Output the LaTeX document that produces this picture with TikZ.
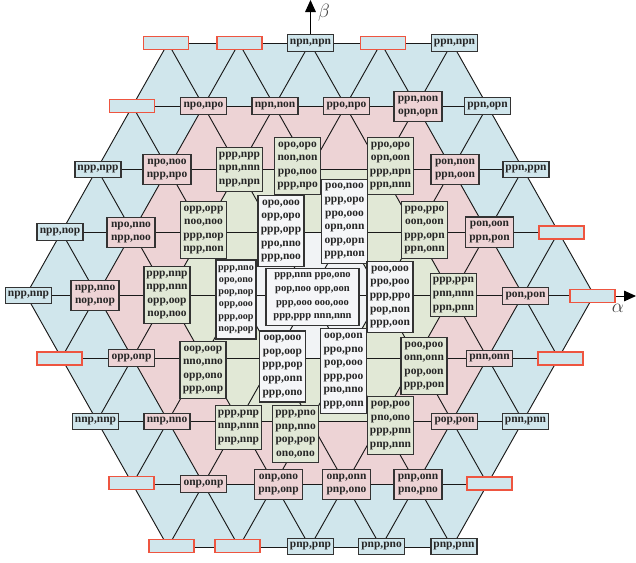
\documentclass[tikz,border=0pt]{standalone}
\usepackage{fontspec}
\setmainfont{Liberation Serif}
\usetikzlibrary{arrows.meta}
\definecolor{cblue}{HTML}{D0E6EC}
\definecolor{cpink}{HTML}{EDD3D5}
\definecolor{cgreen}{HTML}{E1E8D6}
\definecolor{cgray}{HTML}{F1F3F5}
\definecolor{cwhite}{HTML}{F5F6F8}
\definecolor{cred}{HTML}{EE5540}
\newcommand\bxf{\fontsize{8.6}{10.2}\selectfont\bfseries}
\newcommand\bxs{\fontsize{7.6}{9.2}\selectfont\bfseries}
\newcommand\bxc{\fontsize{7.9}{10.2}\selectfont\bfseries}
\begin{document}
\begin{tikzpicture}[x=0.75pt,y=-0.75pt,
  lat/.style={draw=black!90, line width=0.7pt},
  bx/.style={draw=black!80, line width=0.85pt, inner sep=0pt, minimum width=34.5pt, align=center, text=black!85, font=\bxf},
  blu/.style={bx, fill=cblue},
  pnk/.style={bx, fill=cpink},
  grn/.style={bx, fill=cgreen},
  wht/.style={bx, fill=cwhite},
  emp/.style={draw=cred, line width=0.8pt, fill=cblue, minimum width=33.75pt, minimum height=9.75pt, inner sep=0pt},
  l1/.style={minimum height=12.4pt},
  l2/.style={minimum height=22.6pt, minimum width=36pt},
  l3/.style={minimum height=32.8pt},
  l4/.style={minimum height=43pt},
  l5/.style={minimum height=53.2pt},
  l6/.style={minimum height=63.4pt},
  axarrow/.style={draw=black, line width=0.75pt, -{Triangle[length=9pt,width=8pt]}},
  axlab/.style={font=\fontsize{15}{15}\selectfont, text=black!75, inner sep=0pt},
]
\useasboundingbox (0,0) rectangle (636,562);
% lattice points
\foreach \a in {-4,...,4}{
  \foreach \b in {-4,...,4}{
    \pgfmathtruncatemacro\s{\a+\b}
    \ifnum\s<5 \ifnum\s>-5
      \coordinate (p\a x\b) at ({310+71*(\a+\b/2)},{295-63*\b});
    \fi\fi
  }
}
% filled hexagons
\fill[cblue] (p4x0) -- (p0x4) -- (p-4x4) -- (p-4x0) -- (p0x-4) -- (p4x-4) -- cycle;
\fill[cpink] (p3x0) -- (p0x3) -- (p-3x3) -- (p-3x0) -- (p0x-3) -- (p3x-3) -- cycle;
\fill[cgreen] (p2x0) -- (p0x2) -- (p-2x2) -- (p-2x0) -- (p0x-2) -- (p2x-2) -- cycle;
\fill[cgray] (p1x0) -- (p0x1) -- (p-1x1) -- (p-1x0) -- (p0x-1) -- (p1x-1) -- cycle;
% lattice lines
\foreach \b in {-4,...,4}{
  \pgfmathtruncatemacro\lo{max(-4,-4-\b)}
  \pgfmathtruncatemacro\hi{min(4,4-\b)}
  \draw[lat] (p\lo x\b) -- (p\hi x\b);
}
\foreach \a in {-4,...,4}{
  \pgfmathtruncatemacro\lo{max(-4,-4-\a)}
  \pgfmathtruncatemacro\hi{min(4,4-\a)}
  \draw[lat] (p\a x\lo) -- (p\a x\hi);
}
\foreach \s in {-4,...,4}{
  \pgfmathtruncatemacro\lo{max(-4,\s-4)}
  \pgfmathtruncatemacro\hi{min(4,\s+4)}
  \pgfmathtruncatemacro\alo{\s-\lo}
  \pgfmathtruncatemacro\ahi{\s-\hi}
  \draw[lat] (p\alo x\lo) -- (p\ahi x\hi);
}
% boxes
\node[emp] (n1) at (166,43) {};
\node[emp] (n2) at (239.5,43) {};
\node[blu,l1] (n3) at (310.5,43) {npn,npn};
\node[emp] (n4) at (383,43) {};
\node[blu,l1] (n5) at (454.5,43) {ppn,npn};
\node[emp] (n6) at (132,106) {};
\node[pnk,l1] (n7) at (203.5,106) {npo,npo};
\node[pnk,l1] (n8) at (275,106) {npn,non};
\node[pnk,l1] (n9) at (346.5,106) {ppo,npo};
\node[pnk,l2] (n10) at (418,106.5) {ppn,non\\opn,opn};
\node[blu,l1] (n11) at (487.5,106) {ppn,opn};
\node[blu,l1] (n12) at (98,169.5) {npp,npp};
\node[pnk,l2] (n13) at (167,169.5) {npo,noo\\npp,npo};
\node[grn,l3] (n14) at (239.5,169.5) {ppp,npp\\npn,nnn\\npp,npn};
\node[grn,l4] (n15) at (297.5,166) {opo,opo\\non,non\\ppo,noo\\ppp,npo};
\node[grn,l4] (n16) at (390.5,166) {ppo,opo\\opn,oon\\ppp,npn\\ppn,nnn};
\node[pnk,l2] (n17) at (455,169.5) {pon,non\\ppn,oon};
\node[blu,l1] (n18) at (526,169.5) {ppn,ppn};
\node[blu,l1] (n19) at (60,232) {npp,nop};
\node[pnk,l2] (n20) at (131,232.5) {npo,nno\\npp,noo};
\node[grn,l4] (n21) at (203.5,230) {opp,opp\\noo,noo\\ppp,nop\\npp,non};
\node[wht,l5] (n22) at (281,231) {opo,ooo\\opp,opo\\ppp,opp\\ppo,nno\\ppp,noo};
\node[wht,l6] (n23) at (344.5,221.5) {poo,noo\\ppp,opo\\ppo,ooo\\opn,onn\\opp,opn\\ppp,non};
\node[grn,l4] (n24) at (424.5,230) {ppo,ppo\\oon,oon\\ppp,opn\\ppn,onn};
\node[pnk,l2] (n25) at (489.5,232) {pon,oon\\ppn,pon};
\node[emp] (n26) at (561.5,232.5) {};
\node[blu,l1] (n27) at (28.5,295.5) {npp,nnp};
\node[pnk,l2] (n28) at (95,295.5) {npp,nno\\nop,nop};
\node[grn,l4] (n29) at (167,295) {ppp,nnp\\npp,nnn\\opp,oop\\nop,noo};
\node[wht,font=\bxs,minimum width=30pt,minimum height=59.25pt] (n30) at (236,299.5) {ppp,nno\\opo,ono\\pop,nop\\opp,ooo\\ppp,oop\\nop,pop};
\node[wht,l4,font=\bxc,minimum width=69.75pt] (n31) at (312.5,297) {ppp,nnn ppo,ono\\pop,noo opp,oon\\ppp,ooo ooo,ooo\\ppp,ppp nnn,nnn};
\node[wht,l5] (n32) at (390,297) {poo,ooo\\ppo,poo\\ppp,ppo\\pop,non\\ppp,oon};
\node[grn,l3] (n33) at (453.5,295) {ppp,ppn\\pnn,nnn\\ppn,pnn};
\node[pnk,l1] (n34) at (525.5,296) {pon,pon};
\node[emp] (n35) at (592.5,296) {};
\node[emp] (n36) at (59.5,358.5) {};
\node[pnk,l1] (n37) at (131.5,358) {opp,onp};
\node[grn,l4] (n38) at (203,370) {oop,oop\\nno,nno\\opp,ono\\ppp,onp};
\node[wht,l5] (n39) at (282.5,366.5) {oop,ooo\\pop,oop\\ppp,pop\\opp,onn\\ppp,ono};
\node[wht,l6] (n40) at (343.5,371) {oop,oon\\ppo,pno\\pop,ooo\\ppp,poo\\pno,nno\\ppp,onn};
\node[grn,l4] (n41) at (424,366) {poo,poo\\onn,onn\\pop,oon\\ppp,pon};
\node[pnk,l1] (n42) at (489.5,358.5) {pnn,onn};
\node[emp] (n43) at (560.5,358.5) {};
\node[blu,l1] (n44) at (95.5,421.5) {nnp,nnp};
\node[pnk,l1] (n45) at (167,421.5) {nnp,nno};
\node[grn,l3] (n46) at (238.5,427.5) {ppp,pnp\\nnp,nnn\\pnp,nnp};
\node[grn,l4] (n47) at (295.5,434) {ppp,pno\\pnp,nno\\pop,pop\\ono,ono};
\node[grn,l4] (n48) at (390.5,425.5) {pop,poo\\pno,ono\\ppp,pnn\\pnp,nnn};
\node[pnk,l1] (n49) at (454.5,421.5) {pop,pon};
\node[blu,l1] (n50) at (525.5,421.5) {pnn,pnn};
\node[emp] (n51) at (131.5,483) {};
\node[pnk,l1] (n52) at (203.5,484) {onp,onp};
\node[pnk,l2] (n53) at (278.5,484.5) {onp,ono\\pnp,onp};
\node[pnk,l2] (n54) at (346.5,484.5) {onp,onn\\pnp,ono};
\node[pnk,l2] (n55) at (418,484.5) {pnp,onn\\pno,pno};
\node[emp] (n56) at (489.5,483.5) {};
\node[emp] (n57) at (171.5,546) {};
\node[emp] (n58) at (237.5,546) {};
\node[blu,l1] (n59) at (310.5,546.5) {pnp,pnp};
\node[blu,l1] (n60) at (381.5,546.5) {pnp,pno};
\node[blu,l1] (n61) at (454,546.5) {pnp,pnn};
% axes
\coordinate (btip) at (310.5,0);
\draw[axarrow] (n3.north) -- (btip);
\node[axlab] (blab) at (324,13) {$\beta$};
\coordinate (atip) at (636,296);
\draw[axarrow] (n35.east) -- (atip);
\node[axlab] (alab) at (618,308) {$\alpha$};
\end{tikzpicture}
\end{document}
